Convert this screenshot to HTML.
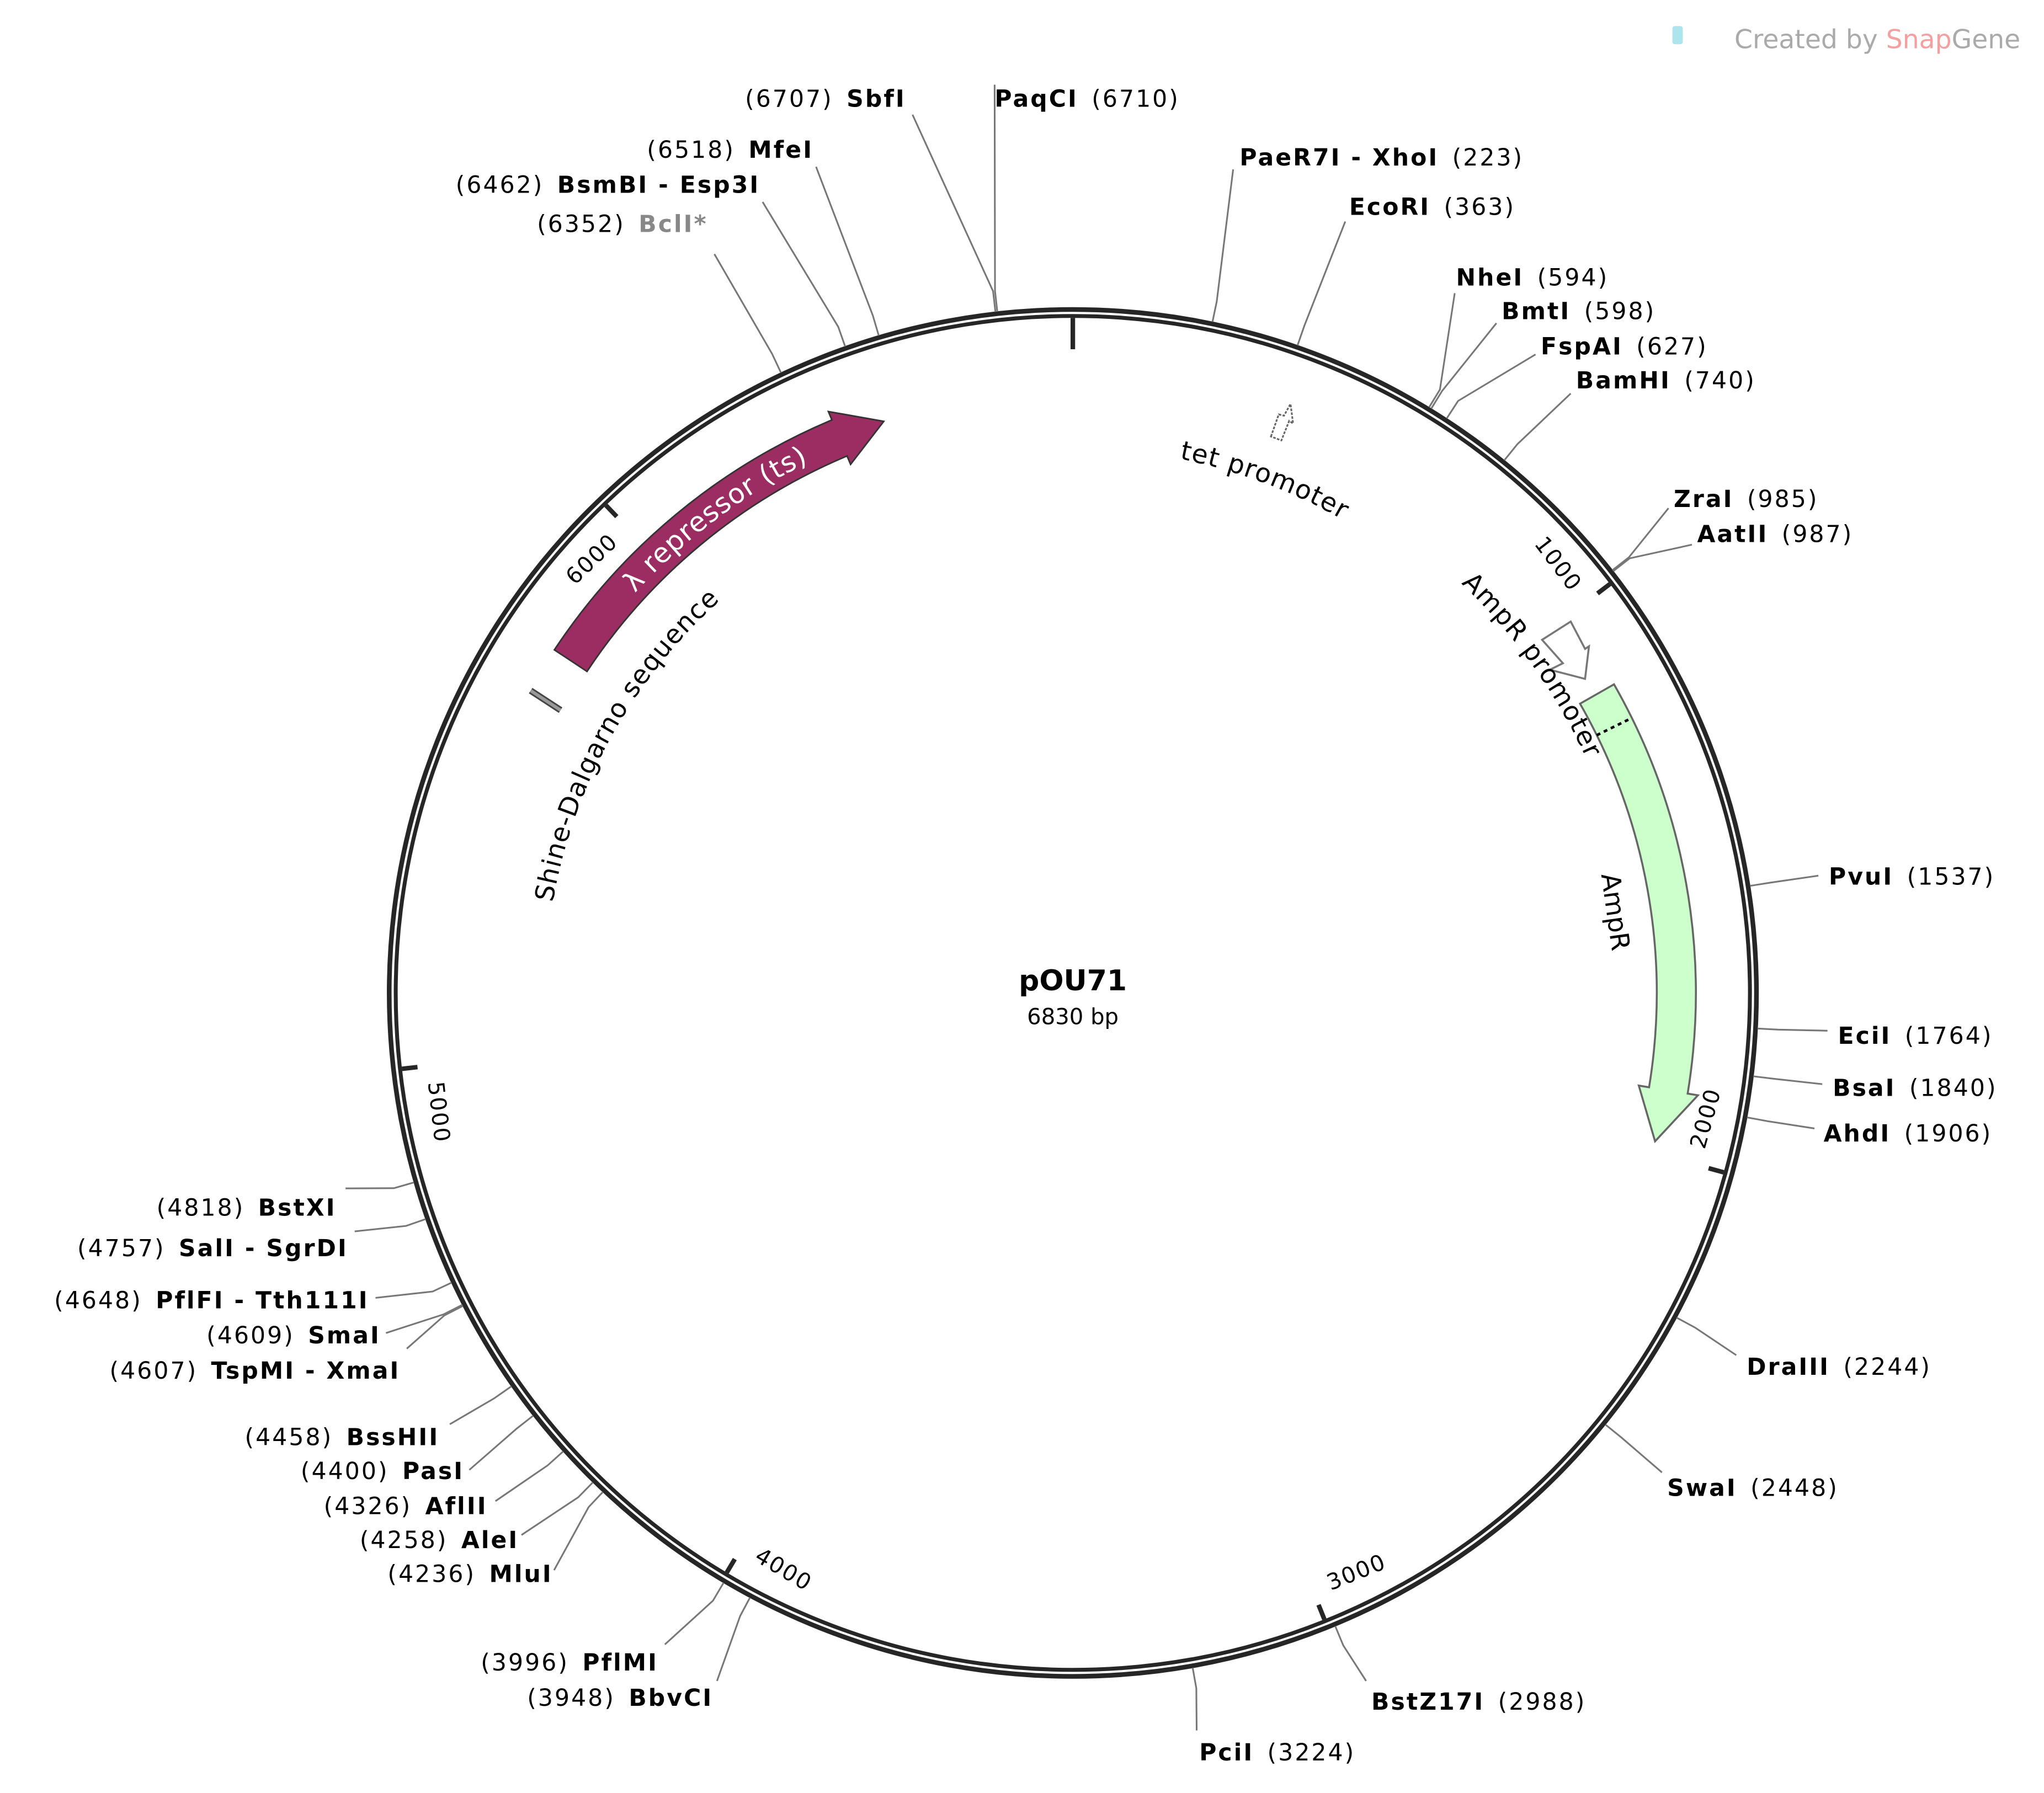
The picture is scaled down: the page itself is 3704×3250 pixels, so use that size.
<!DOCTYPE html>
<html><head><meta charset="utf-8"><style>html,body{margin:0;padding:0;background:#fff}svg{display:block}</style></head>
<body>
<svg id="s" xmlns="http://www.w3.org/2000/svg" width="3704" height="3250" viewBox="0 0 1568 1376" font-family="'DejaVu Sans','Liberation Sans',sans-serif">
<rect width="1568" height="1376" fill="#fff"/>
<rect x="1283" y="20" width="8" height="14" rx="2" fill="#aee4ee"/>
<text x="1550" y="37" text-anchor="end" font-size="20" fill="#aaa">Created by <tspan fill="#f4a0a0">Snap</tspan><tspan fill="#aaa">Gene</tspan></text>
<g id="g"></g>
<text x="823" y="760" text-anchor="middle" font-size="22" font-weight="bold">pOU71</text>
<text x="823" y="786" text-anchor="middle" font-size="17">6830 bp</text>
</svg>
<script>
const NS="http://www.w3.org/2000/svg",g=document.getElementById('g');
const cx=823,cy=762,TOT=6830;
function el(t,a,txt){const e=document.createElementNS(NS,t);for(const k in a)e.setAttribute(k,a[k]);if(txt!=null)e.textContent=txt;g.appendChild(e);return e;}
function P(ang,r){const a=ang*Math.PI/180;return [cx+r*Math.sin(a),cy-r*Math.cos(a)];}
function A(p){return p/TOT*360;}
el('circle',{cx,cy,r:524.5,fill:'none',stroke:'#262626','stroke-width':3.6});
el('circle',{cx,cy,r:519.5,fill:'none',stroke:'#262626','stroke-width':3});
let t0=P(0,518),t1=P(0,494);el('line',{x1:t0[0],y1:t0[1],x2:t1[0],y2:t1[1],stroke:'#262626','stroke-width':3.5});
for(let k=1;k<=6;k++){const a=A(k*1000);const p=P(a,518),q=P(a,506);
 el('line',{x1:p[0],y1:p[1],x2:q[0],y2:q[1],stroke:'#262626','stroke-width':3.5});
 const c=P(a-4.2,496);let rot=a<90?a:(a<270?a-180:a-360);
 el('text',{x:c[0],y:c[1],'text-anchor':'middle','dominant-baseline':'middle','font-size':17,'letter-spacing':1,transform:`rotate(${rot} ${c[0]} ${c[1]})`},String(k*1000));}
function arcPath(a1,a2,rOut,rIn,headA,rhOut,rhIn,tipR){
 const cw=a2>a1;const sw=cw?1:0,sw2=cw?0:1;
 const p1=P(a1,rOut),p2=P(headA,rOut),p3=P(headA,rhOut),p4=P(a2,tipR),p5=P(headA,rhIn),p6=P(headA,rIn),p7=P(a1,rIn);
 return `M${p1}A${rOut},${rOut} 0 0 ${sw} ${p2}L${p3}L${p4}L${p5}L${p6}A${rIn},${rIn} 0 0 ${sw2} ${p7}Z`;}
el('path',{d:arcPath(-56.5,-18.3,477,447,-22.8,484,440,462),fill:'#9b2d62',stroke:'#333','stroke-width':1.2});
el('path',{id:'lp',d:`M${P(-54,455)}A455,455 0 0 1 ${P(-20,455)}`,fill:'none'});
const tl=el('text',{'font-size':21,fill:'#fff','letter-spacing':0.5});const tp=document.createElementNS(NS,'textPath');tp.setAttribute('href','#lp');tp.setAttribute('startOffset','50%');tp.setAttribute('text-anchor','middle');tp.textContent='λ repressor (ts)';tl.appendChild(tp);
el('path',{d:arcPath(60.3,104.3,478,448,99.3,486,440,461),fill:'#ccffcc',stroke:'#666','stroke-width':1.5});
{const a=P(63.8,448),b=P(63.8,478);el('line',{x1:a[0],y1:a[1],x2:b[0],y2:b[1],stroke:'#000','stroke-width':2,'stroke-dasharray':'3,3'});}
el('path',{d:'M1183,491 L1205,477 L1216,498 L1219,496 L1216,521 L1189,514 L1199,509 Z',fill:'#fff',stroke:'#777','stroke-width':1.5});
el('path',{d:'M975,335 L981,318 L985,319 L990,310 L992,325 L989,323 L983,338 Z',fill:'#fff',stroke:'#666','stroke-width':1.3,'stroke-dasharray':'2,1'});
el('line',{x1:407,y1:530,x2:430,y2:545,stroke:'#444','stroke-width':5});
el('line',{x1:407,y1:530,x2:430,y2:545,stroke:'#999','stroke-width':2.5});
function curved(id,a1,a2,r,txt,fs){const cw=a2>a1;el('path',{id,d:`M${P(a1,r)}A${r},${r} 0 0 ${cw?1:0} ${P(a2,r)}`,fill:'none'});
 const t=el('text',{'font-size':fs,'letter-spacing':0.6});const tp=document.createElementNS(NS,'textPath');tp.setAttribute('href','#'+id);tp.setAttribute('startOffset','50%');tp.setAttribute('text-anchor','middle');tp.textContent=txt;t.appendChild(tp);}
curved('sd',-91,-31,405,'Shine-Dalgarno sequence',20);
curved('ap',34.5,74.5,433,'AmpR promoter',20);
curved('tp',9.5,31.5,418,'tet promoter',20);
{const c=[1238,700];el('text',{x:c[0],y:c[1],'font-size':20,'text-anchor':'middle','dominant-baseline':'middle',transform:`rotate(82 ${c[0]} ${c[1]})`},'AmpR');}
const L=[
['SbfI',6707,695,82,'L',700,88],['PaqCI',6710,763,82,'R',763,65],
['PaeR7I - XhoI',223,951,127,'R',946,130],['EcoRI',363,1035,165,'R',1032,170],
['NheI',594,1117,219,'R',1116,225],['BmtI',598,1152,245,'R',1148,248],['FspAI',627,1182,272,'R',1178,272],['BamHI',740,1209,298,'R',1205,302],
['ZraI',985,1284,389,'R',1280,390],['AatII',987,1302,416,'R',1298,418],
['PvuI',1537,1403,679,'R',1395,672],['EciI',1764,1410,801,'R',1402,791],['BsaI',1840,1406,841,'R',1398,832],['AhdI',1906,1399,876,'R',1392,866],
['DraIII',2244,1340,1055,'R',1332,1040],['SwaI',2448,1279,1148,'R',1275,1130],['BstZ17I',2988,1052,1312,'R',1048,1290],['PciI',3224,920,1351,'R',918,1328],
['BbvCI',3948,547,1309,'L',550,1290],['PflMI',3996,505,1282,'L',510,1262],['MluI',4236,424,1214,'L',425,1205],['AleI',4258,398,1188,'L',400,1178],
['AflII',4326,374,1162,'L',380,1152],['PasI',4400,356,1135,'L',360,1128],['BssHII',4458,337,1109,'L',345,1093],['TspMI - XmaI',4607,307,1058,'L',312,1035],
['SmaI',4609,292,1031,'L',296,1023],['PflFI - Tth111I',4648,283,1004,'L',288,996],['SalI - SgrDI',4757,267,964,'L',272,945],['BstXI',4818,258,933,'L',265,912],
['BclI*',6352,543,178,'L',548,195],['BsmBI - Esp3I',6462,583,148,'L',585,155],['MfeI',6518,624,121,'L',626,128]];
for(const [n,p,x,y,s,lx,ly] of L){const a=A(p);const c1=P(a,526),c2=P(a,542);
 el('path',{d:`M${c1}L${c2}L${lx},${ly}`,fill:'none',stroke:'#777','stroke-width':1.3});
 const col=n==='BclI*'?'#888':'#000';
 const t=el('text',{x,y,'font-size':18,'letter-spacing':1.3,'text-anchor':s==='L'?'end':'start'});
 const b=document.createElementNS(NS,'tspan');b.setAttribute('font-weight','bold');b.setAttribute('fill',col);b.textContent=n;
 const q=document.createElementNS(NS,'tspan');q.textContent='('+p+')';
 const sp=document.createElementNS(NS,'tspan');sp.textContent='\u2002';
 if(s==='L'){t.appendChild(q);t.appendChild(sp);t.appendChild(b);}else{t.appendChild(b);t.appendChild(sp);t.appendChild(q);}}
</script>
</body></html>
